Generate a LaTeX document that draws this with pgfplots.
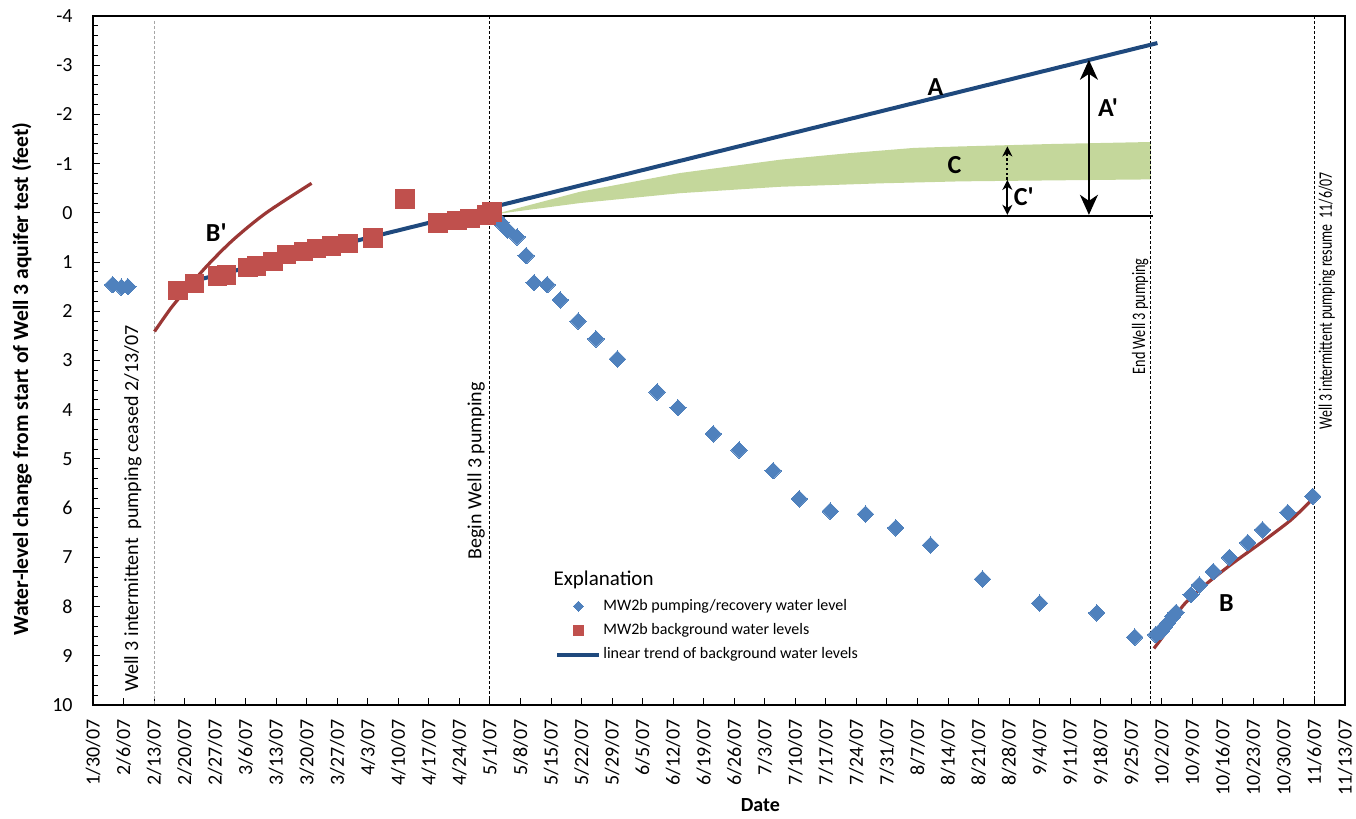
\documentclass[border=0pt]{standalone}
\usepackage{pgfplots}
\pgfplotsset{compat=1.18}
\usepackage{fontspec}
\setmainfont{Carlito}[Ligatures=TeXOff]
\usetikzlibrary{arrows.meta}
\definecolor{diam}{RGB}{79,129,189}
\definecolor{sq}{RGB}{192,80,77}
\definecolor{trend}{RGB}{31,73,125}
\definecolor{curve}{RGB}{155,55,53}
\definecolor{band}{RGB}{196,215,155}
\begin{document}
\begin{tikzpicture}
\begin{axis}[
  scale only axis, width=626pt, height=344.5pt,
  xmin=0, xmax=287, ymin=-4, ymax=10, y dir=reverse,
  axis line style={line width=0.9pt},
  xtick={0,7,...,287},
  xticklabels={1/30/07,2/6/07,2/13/07,2/20/07,2/27/07,3/6/07,3/13/07,3/20/07,3/27/07,4/3/07,4/10/07,4/17/07,4/24/07,5/1/07,5/8/07,5/15/07,5/22/07,5/29/07,6/5/07,6/12/07,6/19/07,6/26/07,7/3/07,7/10/07,7/17/07,7/24/07,7/31/07,8/7/07,8/14/07,8/21/07,8/28/07,9/4/07,9/11/07,9/18/07,9/25/07,10/2/07,10/9/07,10/16/07,10/23/07,10/30/07,11/6/07,11/13/07},
  ytick={-4,-3,...,10},
  yticklabels={-4,-3,-2,-1,0,1,2,3,4,5,6,7,8,9,10},
  minor y tick num=4,
  tick align=inside, xtick pos=bottom, ytick pos=left,
  major tick length=3.5pt, minor tick length=2.5pt,
  every tick/.style={black, line width=0.5pt},
  tick label style={font=\fontsize{10}{12}\selectfont},
  xticklabel style={rotate=90, anchor=east, inner sep=0pt},
  xticklabel shift=7pt,
  yticklabel style={inner sep=0pt},
  yticklabel shift=10pt,
  xlabel={Date},
  xlabel style={font=\bfseries\fontsize{10}{12}\selectfont, at={(axis description cs:0.533,-0.145)}, anchor=center},
  ylabel={Water-level change from start of Well 3 aquifer test (feet)},
  ylabel style={font=\bfseries\fontsize{10.8}{12}\selectfont, at={(axis description cs:-0.0567,0.473)}, anchor=center},
  legend style={draw=none, fill=none, at={(axis description cs:0.369,0.157)}, anchor=north west,
    font=\fontsize{8}{9.6}\selectfont, inner sep=0pt, row sep=3pt, nodes={inner sep=1pt}, cells={anchor=west}},
  legend image code/.code={\draw[mark repeat=2, mark phase=2, #1] plot coordinates {(0pt,0pt) (10.5pt,0pt) (21pt,0pt)};},
]
% green band C
\addplot[fill=band, draw=none, forget plot] coordinates {
 (92,0.03) (111.7,-0.43) (134.6,-0.81) (157.5,-1.08) (172.9,-1.21) (188.2,-1.32) (198.9,-1.35) (220,-1.40) (242.5,-1.44)
 (242.5,-0.68) (220,-0.66) (198.9,-0.64) (180.5,-0.60) (157.5,-0.53) (134.6,-0.40) (111.7,-0.20) (92,0.03)};
% vertical dashed lines
\addplot[gray!70, line width=0.5pt, dash pattern=on 1.5pt off 1pt, forget plot] coordinates {(14,-3.9) (14,10)};
\addplot[black, line width=0.5pt, dash pattern=on 1.5pt off 1pt, forget plot] coordinates {(91,-4) (91,10)};
\addplot[black, line width=0.5pt, dash pattern=on 1.5pt off 1pt, forget plot] coordinates {(242.5,-4) (242.5,10)};
\addplot[black, line width=0.5pt, dash pattern=on 1.5pt off 1pt, forget plot] coordinates {(280,-4) (280,10)};
% pumping / recovery
\addplot[only marks, mark=square*, mark size=2.9pt, mark options={rotate=45, fill=diam, draw=diam, line width=0pt},
  legend image post style={mark size=1.8pt}] coordinates {
 (4.5,1.46) (6.5,1.51) (8,1.50)
 (92.5,0.10) (93.5,0.20) (95,0.35) (97.2,0.49) (99.3,0.87) (101.1,1.42) (104.1,1.46) (107.1,1.77)
 (111.2,2.20) (115.3,2.56) (120.2,2.97) (129.3,3.64) (134.1,3.96) (142.2,4.49) (148.1,4.82)
 (155.9,5.24) (161.9,5.81) (169.0,6.06) (177.1,6.12) (184.0,6.40) (192.0,6.75) (203.9,7.44)
 (217.0,7.93) (230.1,8.13) (238.8,8.62)
 (243.6,8.57) (244.8,8.51) (245.5,8.42) (246.3,8.34) (247.5,8.20) (248.3,8.12) (251.7,7.76) (253.6,7.56)
 (256.8,7.29) (260.5,7.00) (264.7,6.70) (268.1,6.44) (273.9,6.09) (279.6,5.76)};
\addlegendentry{MW2b pumping/recovery water level}
% background
\addplot[only marks, mark=square*, mark size=4.6pt, mark options={fill=sq, draw=sq, line width=0pt},
  legend image post style={mark size=2.5pt}] coordinates {
 (19.5,1.58) (23.3,1.44) (28.6,1.28) (30.6,1.26) (35.5,1.11) (37.5,1.08) (41.3,0.99) (44.3,0.85)
 (48.2,0.79) (51.2,0.73) (54.7,0.67) (58.5,0.62) (64.2,0.51) (71.5,-0.28) (79.1,0.21) (83.4,0.16)
 (86.4,0.11) (90.2,0.04) (91.5,-0.02)};
\addlegendentry{MW2b background water levels}
% trend
\addplot[trend, line width=2pt] coordinates {(19.5,1.46) (244,-3.45)};
\addlegendentry{linear trend of background water levels}
% B' and B curves
\addplot[curve, line width=1.6pt, smooth, forget plot] coordinates {
 (14.1,2.41) (18,1.92) (21.4,1.56) (26,1.09) (32.1,0.55) (39.7,0.0) (50.1,-0.60)};
\addplot[curve, line width=1.6pt, smooth, forget plot] coordinates {
 (243.2,8.85) (246.3,8.48) (249.7,8.0) (254,7.63) (260.5,7.17) (268.1,6.68) (274.6,6.24) (279.4,5.83)};
% zero line
\addplot[black, line width=1pt, forget plot] coordinates {(90.3,0.07) (243,0.07)};
% arrows
\draw[line width=1pt, {Stealth[length=10pt,width=9pt,inset=3pt]}-{Stealth[length=10pt,width=9pt,inset=3pt]}]
  (axis cs:228.3,-3.11) -- (axis cs:228.3,0.04);
\draw[line width=1pt, {Stealth[length=5pt,width=5pt,inset=1.5pt]}-{Stealth[length=5pt,width=5pt,inset=1.5pt]}]
  (axis cs:209.6,0.04) -- (axis cs:209.6,-0.67);
\draw[line width=1pt, dash pattern=on 1.2pt off 1.2pt, -{Stealth[length=5pt,width=5pt,inset=1.5pt]}]
  (axis cs:209.6,-0.67) -- (axis cs:209.6,-1.35);
% letter labels
\node[font=\bfseries\fontsize{13}{15}\selectfont, inner sep=0pt] at (axis cs:193.1,-2.55) {A};
\node[font=\bfseries\fontsize{13}{15}\selectfont, inner sep=0pt, anchor=west] at (axis cs:230.3,-2.14) {A'};
\node[font=\bfseries\fontsize{13}{15}\selectfont, inner sep=0pt] at (axis cs:197.5,-0.98) {C};
\node[font=\bfseries\fontsize{13}{15}\selectfont, inner sep=0pt, anchor=west] at (axis cs:211.0,-0.335) {C'};
\node[font=\bfseries\fontsize{13}{15}\selectfont, inner sep=0pt, anchor=west] at (axis cs:25.8,0.41) {B'};
\node[font=\bfseries\fontsize{13}{15}\selectfont, inner sep=0pt] at (axis cs:259.8,7.92) {B};
% vertical annotations
\node[rotate=90, anchor=south west, inner sep=0pt, font=\fontsize{10}{12}\selectfont] at (axis cs:11.25,9.74) {Well 3 intermittent\ \ pumping ceased 2/13/07};
\node[rotate=90, anchor=south west, inner sep=0pt, font=\fontsize{10}{12}\selectfont] at (axis cs:89.9,7.05) {Begin Well 3 pumping};
\node[rotate=90, anchor=south west, inner sep=0pt, font=\fontsize{9.5}{11}\selectfont] at (axis cs:242.0,3.29) {\scalebox{0.75}[1]{End Well 3 pumping}};
\node[rotate=90, anchor=north west, inner sep=0pt, font=\fontsize{9.5}{11}\selectfont] at (axis cs:280.9,4.41) {\scalebox{0.73}[1]{Well 3 intermittent pumping resume\ \ 11/6/07}};
% legend title
\node[anchor=west, inner sep=0pt, font=\fontsize{10.5}{12}\selectfont] at (axis cs:105.5,7.46) {Explanation};
\end{axis}
\pgfresetboundingbox
\path[use as bounding box] ([xshift=-46.5pt,yshift=-57pt]current axis.south west) rectangle ([xshift=5.5pt,yshift=8pt]current axis.north east);
\end{tikzpicture}
\end{document}
